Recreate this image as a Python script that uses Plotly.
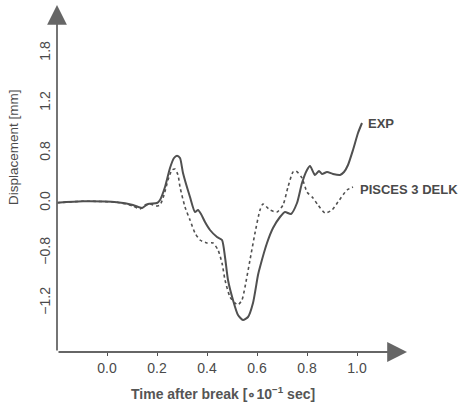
import plotly.graph_objects as go

# Time after break [x10^-1 sec]
exp_t = [-0.2, -0.096, 0.04, 0.104, 0.14, 0.164, 0.2, 0.212, 0.232, 0.252, 0.268, 0.28, 0.292,
         0.304, 0.332, 0.352, 0.364, 0.376, 0.392, 0.412, 0.44, 0.46, 0.472, 0.484, 0.504,
         0.524, 0.544, 0.564, 0.584, 0.604, 0.612, 0.64, 0.664, 0.692, 0.712, 0.736, 0.76,
         0.78, 0.8, 0.812, 0.832, 0.848, 0.86, 0.88, 0.904, 0.932, 0.948, 0.964, 0.984,
         1.004, 1.02]
exp_d = [0.002, 0.014, 0.006, -0.016, -0.04, -0.008, 0.0, 0.024, 0.128, 0.28, 0.36, 0.378, 0.36,
         0.24, 0.048, -0.072, -0.056, -0.088, -0.152, -0.216, -0.272, -0.296, -0.432, -0.616,
         -0.776, -0.896, -0.936, -0.912, -0.8, -0.576, -0.512, -0.32, -0.2, -0.112, -0.072,
         -0.088, 0.0, 0.16, 0.264, 0.296, 0.224, 0.256, 0.232, 0.248, 0.232, 0.224, 0.248,
         0.304, 0.424, 0.56, 0.64]

pis_t = [-0.2, -0.096, 0.04, 0.104, 0.132, 0.152, 0.172, 0.196, 0.212, 0.228, 0.244, 0.26,
         0.272, 0.284, 0.292, 0.312, 0.332, 0.352, 0.372, 0.4, 0.424, 0.444, 0.46, 0.472,
         0.492, 0.512, 0.524, 0.54, 0.552, 0.572, 0.592, 0.612, 0.624, 0.652, 0.68, 0.704,
         0.724, 0.744, 0.756, 0.78, 0.8, 0.824, 0.844, 0.872, 0.9, 0.924, 0.96, 0.984]
pis_d = [0.002, 0.014, 0.006, -0.024, -0.048, -0.016, -0.008, -0.024, -0.016, 0.064, 0.184,
         0.264, 0.272, 0.224, 0.128, -0.032, -0.136, -0.24, -0.296, -0.32, -0.32, -0.376,
         -0.48, -0.616, -0.752, -0.8, -0.816, -0.776, -0.672, -0.456, -0.24, -0.056, -0.008,
         -0.056, -0.072, -0.016, 0.128, 0.248, 0.256, 0.2, 0.088, 0.04, -0.016, -0.08,
         -0.056, 0.008, 0.104, 0.128]

x_tickvals = [0.0, 0.2, 0.4, 0.6, 0.8, 1.0]
x_ticktext = ["0.0", "0.2", "0.4", "0.6", "0.8", "1.0"]
y_tickvals = [1.2, 0.8, 0.4, 0.0, -0.4, -0.8]
y_ticktext = ["1.8", "1.2", "0.8", "0.0", "\u22120.8", "\u22121.2"]

LINE = "#505050"
TEXT = "#4a4a4a"
FONT = "Liberation Sans"

XMIN, XMAX = -0.2, 1.2
YMIN, YMAX = -1.192, 1.584

fig = go.Figure()
fig.add_trace(go.Scatter(x=exp_t, y=exp_d, mode="lines", name="EXP",
                         line=dict(color=LINE, width=2, shape="spline", smoothing=0.6)))
fig.add_trace(go.Scatter(x=pis_t, y=pis_d, mode="lines", name="PISCES 3 DELK",
                         line=dict(color=LINE, width=1.6, dash="dot", shape="spline", smoothing=0.6)))

fig.update_layout(
    width=467, height=409,
    margin=dict(l=57, r=60, t=5, b=57),
    paper_bgcolor="white", plot_bgcolor="white",
    showlegend=False,
    font=dict(family=FONT, color=TEXT, size=13),
    xaxis=dict(range=[XMIN, XMAX], tickvals=x_tickvals, ticktext=x_ticktext,
               showgrid=False, zeroline=False, showline=False,
               ticks="outside", ticklen=3, tickcolor=LINE, tickwidth=1,
               tickfont=dict(size=14, color=TEXT)),
    yaxis=dict(range=[YMIN, YMAX], tickvals=y_tickvals, ticktext=y_ticktext,
               showgrid=False, zeroline=False, showline=False, ticks="",
               tickangle=-90, ticklabelstandoff=3,
               tickfont=dict(size=14, color=TEXT)),
)

# axes with arrow heads
fig.add_annotation(x=XMAX, y=YMIN, ax=XMIN, ay=YMIN, xref="x", yref="y", axref="x", ayref="y",
                   text="", showarrow=True, arrowhead=2, arrowsize=2.2, arrowwidth=1.8,
                   arrowcolor="#666666", standoff=0, startstandoff=0)
fig.add_annotation(x=XMIN, y=YMAX, ax=XMIN, ay=YMIN, xref="x", yref="y", axref="x", ayref="y",
                   text="", showarrow=True, arrowhead=2, arrowsize=2.2, arrowwidth=1.8,
                   arrowcolor="#666666", standoff=0, startstandoff=0)

# curve labels
fig.add_annotation(x=1.036, y=0.64, xref="x", yref="y", text="<b>EXP</b>", showarrow=False,
                   xanchor="left", yanchor="middle", font=dict(size=13, color=TEXT, family=FONT))
fig.add_annotation(x=1.004, y=0.112, xref="x", yref="y", text="<b>PISCES 3 DELK</b>", showarrow=False,
                   xanchor="left", yanchor="middle", font=dict(size=13, color=TEXT, family=FONT))

# axis titles (placed in pixel terms, converted to paper coords)
pw, ph = 467 - 57 - 60, 409 - 5 - 57
def px_to_paper(px, py):
    return (px - 57) / pw, (409 - 57 - py) / ph

tx, ty = px_to_paper(13, 147)
fig.add_annotation(x=tx, y=ty, xref="paper", yref="paper", text="Displacement [mm]",
                   xanchor="center", yanchor="middle",
                   showarrow=False, textangle=-90, font=dict(size=13.5, color=TEXT, family=FONT))
tx, ty = px_to_paper(223, 393)
fig.add_annotation(x=tx, y=ty, xref="paper", yref="paper",
                   text="<b>Time after break [\u221810<sup>\u22121</sup> sec]</b>",
                   xanchor="center", yanchor="middle",
                   showarrow=False, font=dict(size=14, color="#555555", family=FONT))

fig.write_html("out.html")
